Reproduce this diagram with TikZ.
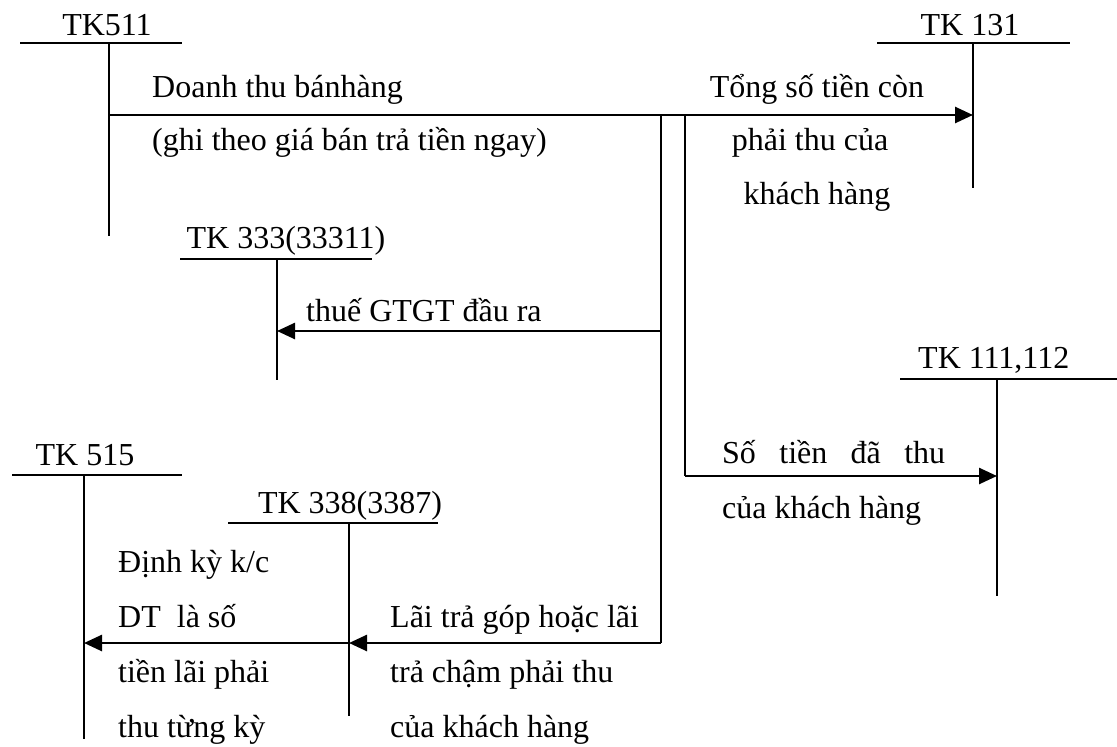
\documentclass[tikz,border=0pt]{standalone}
\usepackage{fontspec}
\setmainfont{Liberation Serif}
\usetikzlibrary{arrows.meta}
\begin{document}
\begin{tikzpicture}[x=1pt,y=-1pt,
  lbl/.style={inner sep=0pt,font=\fontsize{32}{36}\selectfont},
  tacct/.style={line width=1.7pt},
  flow/.style={line width=2.6pt,-{Triangle[length=18pt,width=16pt]}},
  trunk/.style={line width=2.6pt}]
\useasboundingbox (0,0) rectangle (1117,747);

% ---------- T accounts ----------
% TK511
\node[lbl,anchor=base] (n511) at (107,35) {TK511};
\coordinate (l511) at (20,43); \coordinate (r511) at (182,43);
\coordinate (t511) at (109,43); \coordinate (b511) at (109,236);
\draw[tacct] (l511) -- (r511); \draw[tacct] (t511) -- (b511);
% TK131
\node[lbl,anchor=base] (n131) at (970,35) {TK 131};
\coordinate (l131) at (877,43); \coordinate (r131) at (1070,43);
\coordinate (t131) at (973,43); \coordinate (b131) at (973,188);
\draw[tacct] (l131) -- (r131); \draw[tacct] (t131) -- (b131);
% TK333
\node[lbl,anchor=base] (n333) at (286,248) {TK 333(33311)};
\coordinate (l333) at (180,259); \coordinate (r333) at (372,259);
\coordinate (t333) at (277,259); \coordinate (b333) at (277,380);
\draw[tacct] (l333) -- (r333); \draw[tacct] (t333) -- (b333);
% TK111,112
\node[lbl,anchor=base west] (n111) at (918,368) {TK 111,112};
\coordinate (l111) at (900,379); \coordinate (r111) at (1117,379);
\coordinate (t111) at (997,379); \coordinate (b111) at (997,596);
\draw[tacct] (l111) -- (r111); \draw[tacct] (t111) -- (b111);
% TK515
\node[lbl,anchor=base] (n515) at (85,465) {TK 515};
\coordinate (l515) at (12,475); \coordinate (r515) at (182,475);
\coordinate (t515) at (84,475); \coordinate (b515) at (84,739);
\draw[tacct] (l515) -- (r515); \draw[tacct] (t515) -- (b515);
% TK338
\node[lbl,anchor=base] (n338) at (350,513) {TK 338(3387)};
\coordinate (l338) at (228,523); \coordinate (r338) at (438,523);
\coordinate (t338) at (349,523); \coordinate (b338) at (349,716);
\draw[tacct] (l338) -- (r338); \draw[tacct] (t338) -- (b338);

% ---------- connectors ----------
\coordinate (s511) at (109,115);
\coordinate (e131) at (973,115);
\coordinate (ja) at (661,115);
\coordinate (jb) at (685,115);
\coordinate (ja333) at (661,331);
\coordinate (e333) at (277,331);
\coordinate (ja338) at (661,643);
\coordinate (e338) at (349,643);
\coordinate (e515) at (84,643);
\coordinate (jb111) at (685,476);
\coordinate (e111) at (997,476);

\draw[flow] (s511) -- (e131);
\draw[trunk] (ja) -- (ja338);
\draw[trunk] (jb) -- (jb111);
\draw[flow] (ja333) -- (e333);
\draw[flow] (ja338) -- (e338);
\draw[flow] (e338) -- (e515);
\draw[flow] (jb111) -- (e111);

% ---------- labels ----------
\node[lbl,anchor=base west] (d1) at (152,97) {Doanh thu bánhàng};
\node[lbl,anchor=base west] (d2) at (152,150) {(ghi theo giá bán trả tiền ngay)};
\node[lbl,anchor=base] (t1) at (817,97) {Tổng số tiền còn};
\node[lbl,anchor=base] (t2) at (810,150) {phải thu của};
\node[lbl,anchor=base] (t3) at (817,204) {khách hàng};
\node[lbl,anchor=base west] (g1) at (306,321) {thuế GTGT đầu ra};
\node[lbl,anchor=base west] (s1) at (722,463) {\hbox to 223pt{Số\hfill tiền\hfill đã\hfill thu}};
\node[lbl,anchor=base west] (s2) at (722,518) {của khách hàng};
\node[lbl,anchor=base west] (k1) at (118,572) {Định kỳ k/c};
\node[lbl,anchor=base west] (k2) at (118,627) {DT~~là số};
\node[lbl,anchor=base west] (k3) at (118,682) {tiền lãi phải};
\node[lbl,anchor=base west] (k4) at (118,737) {thu từng kỳ};
\node[lbl,anchor=base west] (m1) at (390,627) {Lãi trả góp hoặc lãi};
\node[lbl,anchor=base west] (m2) at (390,682) {trả chậm phải thu};
\node[lbl,anchor=base west] (m3) at (390,737) {của khách hàng};
\end{tikzpicture}
\end{document}
